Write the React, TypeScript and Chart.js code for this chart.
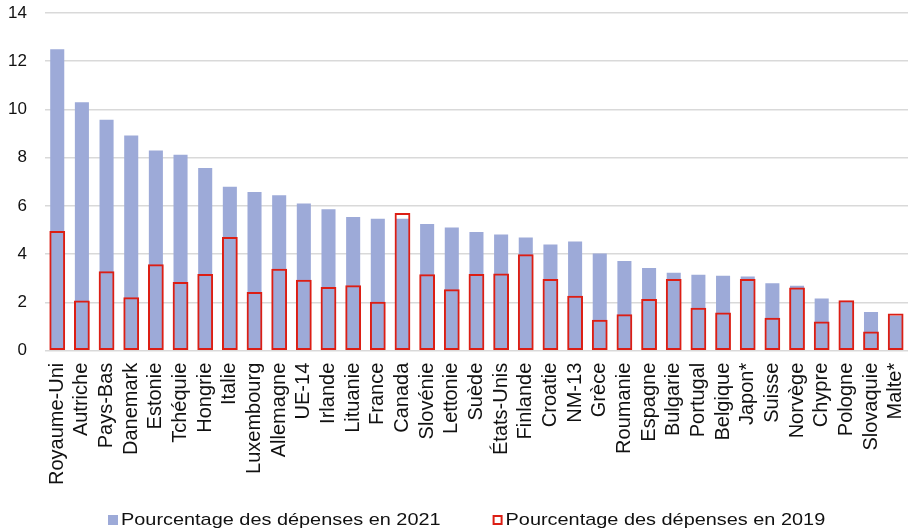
import { useEffect, useRef } from 'react';
import { Chart, registerables } from 'chart.js';

Chart.register(...registerables);

const categories = [
  'Royaume-Uni', 'Autriche', 'Pays-Bas', 'Danemark', 'Estonie', 'Tchéquie', 'Hongrie', 'Italie',
  'Luxembourg', 'Allemagne', 'UE-14', 'Irlande', 'Lituanie', 'France', 'Canada', 'Slovénie',
  'Lettonie', 'Suède', 'États-Unis', 'Finlande', 'Croatie', 'NM-13', 'Grèce', 'Roumanie',
  'Espagne', 'Bulgarie', 'Portugal', 'Belgique', 'Japon*', 'Suisse', 'Norvège', 'Chypre',
  'Pologne', 'Slovaquie', 'Malte*',
];

const share2021 = [
  12.5, 10.3, 9.58, 8.92, 8.3, 8.12, 7.58, 6.8,
  6.58, 6.45, 6.1, 5.87, 5.54, 5.47, 5.47, 5.25,
  5.11, 4.92, 4.82, 4.69, 4.4, 4.53, 4.03, 3.72,
  3.43, 3.23, 3.15, 3.11, 3.08, 2.8, 2.69, 2.17,
  2.06, 1.61, 1.45,
];

const share2019 = [
  4.96, 2.08, 3.3, 2.22, 3.58, 2.85, 3.18, 4.71,
  2.43, 3.4, 2.94, 2.64, 2.71, 2.03, 5.71, 3.17,
  2.55, 3.18, 3.2, 4.0, 2.97, 2.28, 1.28, 1.51,
  2.14, 2.97, 1.78, 1.58, 2.97, 1.37, 2.62, 1.21,
  2.09, 0.8, 1.54,
];

const yTickValues = [0, 2, 4, 6, 8, 10, 12, 14];

const seriesLabels = ['Pourcentage des dépenses en 2021', 'Pourcentage des dépenses en 2019'];

const BLUE = '#9daad8';
const RED = '#dc1e14';
const TEXT = '#111111';
const FONT_FAMILY = '"Liberation Sans", Arial, Helvetica, sans-serif';

const legendPlugin = {
  id: 'customLegend',
  afterDraw(chart: any) {
    const ctx = chart.ctx as CanvasRenderingContext2D;
    const cy = 520;
    const stretch = 1.17;
    let x = 108;
    ctx.save();
    ctx.font = `17px ${FONT_FAMILY}`;
    ctx.textBaseline = 'middle';
    ctx.textAlign = 'left';
    chart.data.datasets.forEach((ds: any) => {
      const outlined = ds.backgroundColor === 'rgba(0,0,0,0)';
      if (outlined) {
        ctx.fillStyle = '#ffffff';
        ctx.fillRect(x, cy - 5, 10, 10);
        ctx.strokeStyle = ds.borderColor;
        ctx.lineWidth = 2;
        ctx.strokeRect(x + 1, cy - 4, 8, 8);
      } else {
        ctx.fillStyle = ds.backgroundColor;
        ctx.fillRect(x, cy - 5, 10, 10);
      }
      ctx.fillStyle = TEXT;
      const w = ctx.measureText(ds.label).width * stretch;
      ctx.save();
      ctx.translate(x + 13, cy);
      ctx.scale(stretch, 1);
      ctx.fillText(ds.label, 0, 0);
      ctx.restore();
      x += 13 + w + 52;
    });
    ctx.restore();
  },
};

export default function App() {
  const canvasRef = useRef<HTMLCanvasElement | null>(null);

  useEffect(() => {
    document.body.style.margin = '0';
    const canvas = canvasRef.current;
    if (!canvas) return;
    const chart = new Chart(canvas, {
      type: 'bar',
      data: {
        labels: categories,
        datasets: [
          {
            label: seriesLabels[0],
            data: share2021,
            backgroundColor: BLUE,
            borderWidth: 0,
            grouped: false,
            order: 2,
            barPercentage: 0.57,
            categoryPercentage: 1,
          } as any,
          {
            label: seriesLabels[1],
            data: share2019,
            backgroundColor: 'rgba(0,0,0,0)',
            borderColor: RED,
            borderWidth: 2,
            borderSkipped: false,
            grouped: false,
            order: 1,
            barPercentage: 0.64,
            categoryPercentage: 1,
          } as any,
        ],
      },
      options: {
        responsive: false,
        animation: false,
        layout: { padding: { left: -10, right: 0, top: 13, bottom: 35 } },
        plugins: {
          legend: { display: false },
          tooltip: { enabled: false },
        },
        scales: {
          x: {
            grid: { display: false, drawTicks: false },
            border: { display: false },
            afterFit: (scale: any) => {
              scale.paddingLeft = 0;
              scale.paddingRight = 0;
            },
            ticks: {
              minRotation: 90,
              maxRotation: 90,
              autoSkip: false,
              padding: 12,
              color: TEXT,
              font: { family: FONT_FAMILY, size: 20 },
            },
          },
          y: {
            min: 0,
            max: 14,
            afterBuildTicks: (axis: any) => {
              axis.ticks = yTickValues.map((v) => ({ value: v }));
            },
            afterFit: (scale: any) => {
              scale.paddingTop = 0;
              scale.paddingBottom = 0;
            },
            grid: { color: '#d9d9d9', lineWidth: 1.5, drawTicks: false },
            border: { display: false },
            ticks: {
              padding: 18,
              color: TEXT,
              font: { family: FONT_FAMILY, size: 17 },
            },
          },
        },
      },
      plugins: [legendPlugin],
    });
    return () => chart.destroy();
  }, []);

  return (
    <div style={{ width: 908, height: 532 }}>
      <canvas ref={canvasRef} width={908} height={532} />
    </div>
  );
}
